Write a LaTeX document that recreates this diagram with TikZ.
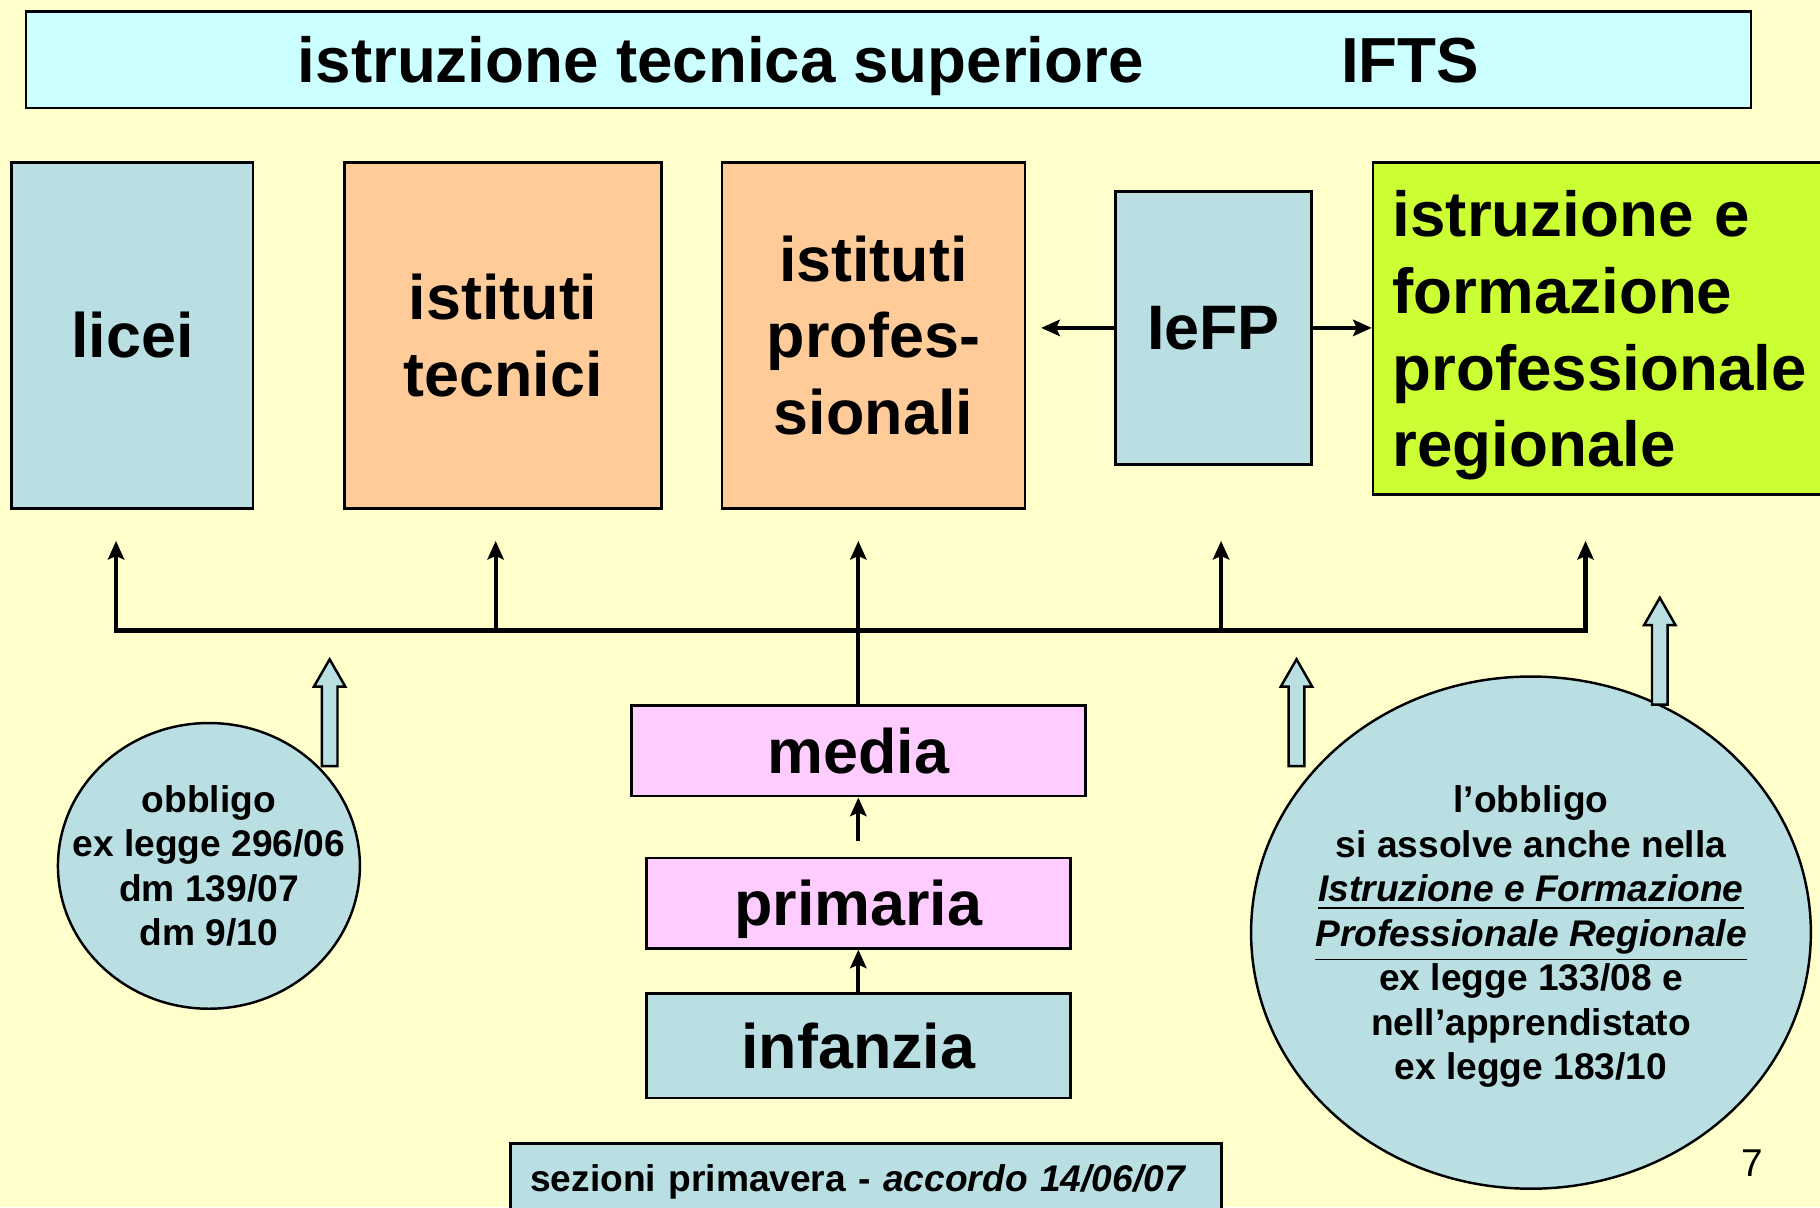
\documentclass[tikz,border=0pt]{standalone}
\usepackage{fontspec}
\setmainfont{Liberation Sans}
\usetikzlibrary{arrows.meta}

\definecolor{slidebg}{HTML}{FFFFCC}
\definecolor{titlecyan}{HTML}{CCFFFF}
\definecolor{boxblue}{HTML}{B9DFE3}
\definecolor{boxorange}{HTML}{FFCC99}
\definecolor{boxpink}{HTML}{FFCCFF}
\definecolor{boxgreen}{HTML}{CCFF33}

\tikzset{school box/.style={draw,line width=0.6pt,align=center,inner sep=0pt,font=\fontsize{15.4}{18.8}\selectfont\bfseries},
title box/.style={school box,fill=titlecyan,minimum width=14.85cm,minimum height=0.83cm,text depth=0pt,font=\fontsize{15.6}{18.8}\selectfont\bfseries},
note text/.style={align=center,inner sep=0pt,font=\fontsize{9.1}{10.9}\selectfont\bfseries},
note ellipse/.style={draw,line width=0.6pt,fill=boxblue},
note box/.style={draw,line width=0.6pt,fill=boxblue,align=left,inner sep=0pt,inner xsep=0.17cm,text depth=0pt,font=\fontsize{9.1}{10.9}\selectfont\bfseries},
conn/.style={line width=1pt,-{Stealth[length=0.16cm,width=0.14cm,inset=0.03cm]}},
bus/.style={line width=1.2pt,line cap=rect},
up arrow/.pic={\draw[line width=0.6pt,fill=boxblue] (-6.75,0) -- (-6.75,-68.5) -- (-13.5,-68.5) -- (0,-92) -- (13.5,-68.5) -- (6.75,-68.5) -- (6.75,0) -- cycle;}}

\begin{document}
\begin{tikzpicture}[x=0.01cm,y=-0.01cm]
\useasboundingbox (0,0) rectangle (1568,1040);
\fill[slidebg] (0,0) rectangle (1568,1040);
\clip (0,0) rectangle (1568,1040);

%% title
\node [title box] (ifts) at (765.5,51.5) {istruzione tecnica superiore\hspace{1.7cm}IFTS};

%% upper row of schools
\node [school box,fill=boxblue,minimum width=2.08cm,minimum height=2.98cm] (licei) at (114,289) {licei};
\node [school box,fill=boxorange,minimum width=2.73cm,minimum height=2.98cm] (tecnici) at (433.5,289) {istituti\\tecnici};
\node [school box,fill=boxorange,minimum width=2.61cm,minimum height=2.98cm] (profes) at (752.5,289) {istituti\\profes-\\sionali};
\node [school box,fill=boxblue,minimum width=1.69cm,minimum height=2.35cm] (iefp) at (1045.5,282.5) {IeFP};
\node [school box,fill=boxgreen,minimum width=4.17cm,minimum height=2.86cm] (regionale) at (1391.5,283) {};
\node [school box,draw=none,text width=3.83cm,align=left,font=\fontsize{15.6}{18.8}\selectfont\bfseries] (regionaletext) at (1391.5,289) {istruzione e\\formazione\\professionale\\regionale};

%% lower column
\node [school box,fill=boxpink,minimum width=3.91cm,minimum height=0.78cm] (media) at (739.5,647) {media};
\node [school box,fill=boxpink,minimum width=3.65cm,minimum height=0.78cm,text depth=0pt] (primaria) at (739.5,778) {primaria};
\node [school box,fill=boxblue,minimum width=3.65cm,minimum height=0.90cm] (infanzia) at (739.5,901) {infanzia};
\node [note box,text width=5.78cm,minimum height=0.60cm] (primavera) at (746,1015) {sezioni primavera - \textit{accordo 14/06/07}};

%% notes
\draw [note ellipse] (180,746) ellipse [x radius=1.30cm,y radius=1.23cm];
\node [note text] (obbligo) at (180,746) {obbligo\\ex legge 296/06\\dm 139/07\\dm 9/10};
\draw [note ellipse] (1319,803.5) ellipse [x radius=2.41cm,y radius=2.205cm];
\node [note text] (assolve) at (1319,807) {l’obbligo\\si assolve anche nella\\\underline{\textit{Istruzione e Formazione}}\\\underline{\textit{Professionale Regionale}}\\ex legge 133/08 e\\nell’apprendistato\\ex legge 183/10};
\node [font=\fontsize{9.5}{11}\selectfont] (pagenum) at (1510,1002) {7};

%% hollow arrows
\pic at (284,660) {up arrow};
\pic at (1117,660) {up arrow};
\pic at (1430,607) {up arrow};

%% coordinates of the bus
\coordinate (bus1) at (100,543);
\coordinate (bus2) at (427,543);
\coordinate (bus4) at (1052,543);
\coordinate (bus5) at (1366,543);
\coordinate (up1) at (100,466);
\coordinate (up2) at (427,466);
\coordinate (up3) at (739.5,466);
\coordinate (up4) at (1052,466);
\coordinate (up5) at (1366,466);
\coordinate (iefpleft) at (897,282.5);

%% bus lines
\draw [bus] (bus1) -- (bus5);
\draw [conn] (bus1) -- (up1);
\draw [conn] (bus2) -- (up2);
\draw [conn] (media.north) -- (up3);
\draw [conn] (bus4) -- (up4);
\draw [conn] (bus5) -- (up5);

%% other connectors
\draw [conn] (iefp.west) -- (iefpleft);
\draw [conn] (iefp.east) -- (iefp.east -| regionale.west);
\draw [conn,shorten <=0.13cm] (primaria.north) -- (media.south);
\draw [conn] (infanzia.north) -- (primaria.south);

\end{tikzpicture}
\end{document}
